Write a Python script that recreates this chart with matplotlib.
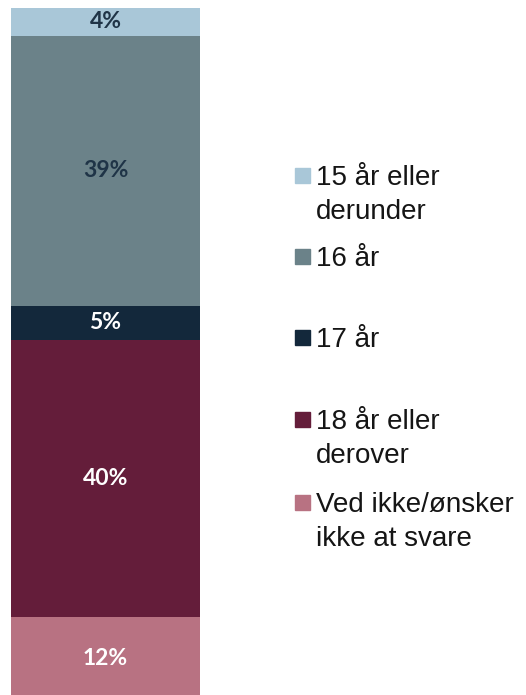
import matplotlib
matplotlib.use("Agg")
import matplotlib.pyplot as plt
from matplotlib.patches import Rectangle

# Data (bottom to top)
categories = ["Ved ikke/ønsker\nikke at svare", "18 år eller\nderover", "17 år", "16 år", "15 år eller\nderunder"]
values = [12, 40, 5, 39, 4]
colors = ["#b87282", "#641d3a", "#13283b", "#6b8289", "#a9c7d8"]
label_colors = ["white", "white", "white", "#1f3447", "#1f3447"]

W, H = 526, 695
fig = plt.figure(figsize=(W / 100, H / 100), dpi=100)
fig.patch.set_facecolor("white")

# axes: data 0 -> ~700px (below image), 100 -> 8px
top_px, bottom_px = 8, 700
ax = fig.add_axes([0, (H - bottom_px) / H, 1, (bottom_px - top_px) / H])
ax.set_xlim(-11 / 189, (W - 11) / 189)  # bar spans x 11..200 px
ax.set_ylim(0, sum(values))
ax.axis("off")

bottom = 0
for v, c, lc in zip(values, colors, label_colors):
    ax.bar(0.5, v, width=1.0, bottom=bottom, color=c, edgecolor="none")
    ax.text(0.5, bottom + v / 2, f"{v}%", ha="center", va="center",
            color=lc, fontsize=16.5, fontweight="bold", family="Lato")
    bottom += v

# Legend (top to bottom)
leg_y = [175, 256, 337, 419, 502]  # pixel y of first line digit centers
fs = 20
em = fs * 100 / 72
for (lab, c), y in zip(list(zip(categories, colors))[::-1], leg_y):
    fig.patches.append(Rectangle((295 / W, 1 - (y + 7.5) / H), 15 / W, 15 / H,
                                 transform=fig.transFigure, color=c, figure=fig))
    for i, line in enumerate(lab.split("\n")):
        base = y + 0.358 * em + i * 34
        fig.text(316 / W, 1 - base / H, line, ha="left", va="baseline",
                 fontsize=fs, family="Liberation Sans", color="#151515")

fig.savefig("out.png", dpi=100)
